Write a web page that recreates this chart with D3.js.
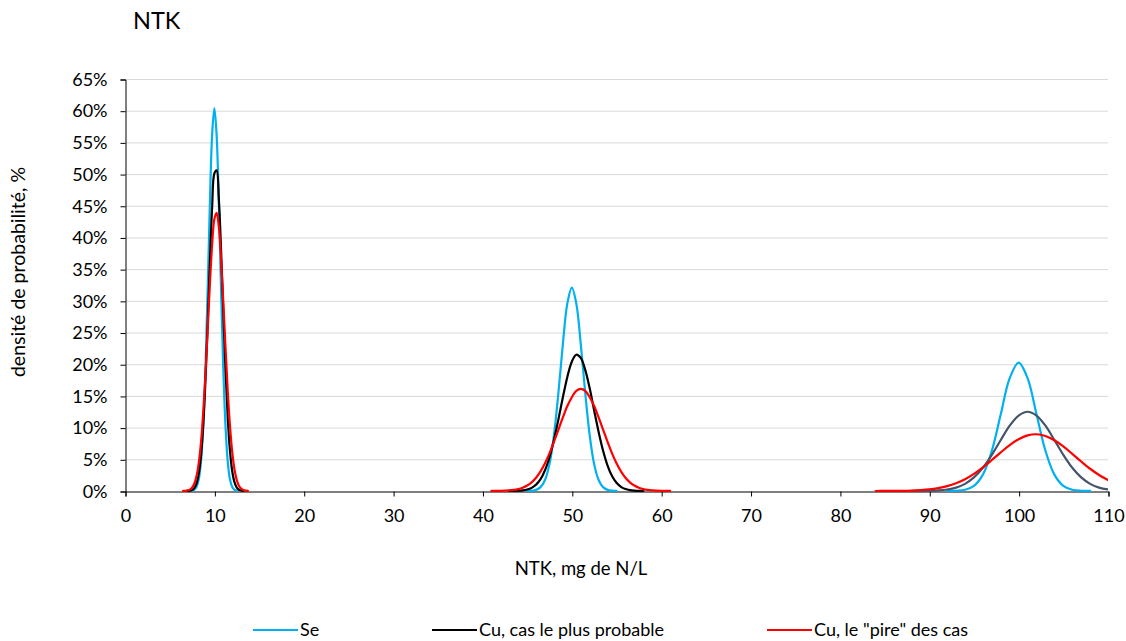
<!DOCTYPE html>
<html>
<head>
<meta charset="utf-8">
<script src="https://cdn.jsdelivr.net/npm/d3@7"></script>
<style>
  html, body { margin: 0; padding: 0; background: #fff; }
  svg { display: block; font-family: Lato, "Noto Sans", sans-serif; }
</style>
</head>
<body>
<svg id="chart" width="1126" height="641"></svg>
<script>
// NTK concentration (mg de N/L) sample grids, one per peak
const xPeak1 = [6.5, 6.75, 7, 7.25, 7.5, 7.75, 8, 8.25, 8.5, 8.75, 9, 9.25, 9.5, 9.75, 10, 10.25, 10.5, 10.75, 11, 11.25, 11.5, 11.75, 12, 12.25, 12.5, 12.75, 13, 13.25, 13.5, 13.75];
const xPeak2 = [41, 41.5, 42, 42.5, 43, 43.5, 44, 44.5, 45, 45.5, 46, 46.5, 47, 47.5, 48, 48.5, 49, 49.5, 50, 50.5, 51, 51.5, 52, 52.5, 53, 53.5, 54, 54.5, 55, 55.5, 56, 56.5, 57, 57.5, 58, 58.5, 59, 59.5, 60, 60.5, 61];
const xPeak3 = [84, 85, 86, 87, 88, 89, 90, 91, 92, 93, 94, 95, 96, 97, 98, 99, 100, 101, 102, 103, 104, 105, 106, 107, 108, 109, 110];

// Probability density, % (null = no value at that concentration)
const sePeak1 = [null, null, null, null, 0.05, 0.18, 0.62, 1.8, 4.6, 10.1, 19.2, 31.7, 45.4, 56.2, 60.4, 56.2, 45.4, 31.7, 19.2, 10.1, 4.6, 1.8, 0.62, 0.18, 0.05, null, null, null, null, null];
const sePeak2 = [null, null, null, null, null, null, null, null, 0.01, 0.05, 0.18, 0.61, 1.74, 4.24, 8.79, 15.5, 23.2, 29.6, 32.1, 29.6, 23.2, 15.5, 8.79, 4.24, 1.74, 0.61, 0.18, 0.05, 0.01, null, null, null, null, null, null, null, null, null, null, null, null];
const sePeak3 = [null, null, null, null, null, null, null, null, 0.005, 0.04, 0.2, 0.81, 2.58, 6.35, 12.1, 17.8, 20.25, 17.8, 12.1, 6.35, 2.58, 0.81, 0.2, 0.04, 0.005, null, null];

const cuProbPeak1 = [null, null, 0.02, 0.05, 0.16, 0.46, 1.17, 2.67, 5.51, 10.3, 17.3, 26.3, 36.1, 44.8, 50.1, 50.6, 46.1, 38.0, 28.3, 19.0, 11.5, 6.29, 3.11, 1.39, 0.56, 0.2, 0.07, 0.02, null, null];
const cuProbPeak2 = [null, null, null, null, 0.005, 0.014, 0.04, 0.1, 0.23, 0.49, 1.0, 1.87, 3.28, 5.33, 8.06, 11.3, 14.8, 18.0, 20.4, 21.5, 21.0, 19.1, 16.2, 12.7, 9.32, 6.34, 4.01, 2.36, 1.29, 0.66, 0.31, 0.14, 0.06, 0.02, 0.01, null, null, null, null, null, null];
const cuProbPeak3 = [null, null, null, null, 0.003, 0.01, 0.03, 0.09, 0.24, 0.54, 1.13, 2.14, 3.66, 5.7, 8.04, 10.3, 11.9, 12.5, 11.9, 10.3, 8.04, 5.7, 3.66, 2.14, 1.13, 0.54, 0.24];

const cuWorstPeak1 = [0.01, 0.03, 0.09, 0.22, 0.52, 1.14, 2.32, 4.36, 7.59, 12.3, 18.3, 25.4, 32.7, 38.9, 42.9, 43.9, 41.7, 36.6, 29.8, 22.5, 15.7, 10.2, 6.13, 3.42, 1.76, 0.84, 0.37, 0.15, 0.06, 0.02];
const cuWorstPeak2 = [0.005, 0.01, 0.02, 0.05, 0.09, 0.17, 0.3, 0.52, 0.86, 1.37, 2.1, 3.1, 4.38, 5.94, 7.74, 9.68, 11.6, 13.4, 14.8, 15.8, 16.1, 15.8, 14.8, 13.4, 11.6, 9.68, 7.74, 5.94, 4.38, 3.1, 2.1, 1.37, 0.86, 0.52, 0.3, 0.17, 0.09, 0.05, 0.02, 0.01, 0.005];
const cuWorstPeak3 = [0.003, 0.007, 0.015, 0.03, 0.07, 0.14, 0.25, 0.45, 0.76, 1.22, 1.86, 2.7, 3.73, 4.89, 6.1, 7.24, 8.17, 8.77, 8.95, 8.68, 8.01, 7.03, 5.86, 4.65, 3.51, 2.52, 1.72];

// Axis ticks
const xTicks = [0, 10, 20, 30, 40, 50, 60, 70, 80, 90, 100, 110];
const yTicks = [0, 5, 10, 15, 20, 25, 30, 35, 40, 45, 50, 55, 60, 65];

const seriesNames = ["Se", "Cu, cas le plus probable", "Cu, le \"pire\" des cas"];

// Layout and styling
const W = 1126, H = 641;
const plot = { left: 125, right: 1108, top: 79, bottom: 491 };
const seriesColors = ["#00B0F0", "#000000", "#FF0000"];
const peakColorOverride = { "1-2": "#44546A" }; // series 1, third peak
const FONT = "Lato, 'Noto Sans', sans-serif";

const svg = d3.select("#chart");
svg.append("rect").attr("width", W).attr("height", H).attr("fill", "#fff");

const x = d3.scaleLinear().domain([0, 110]).range([plot.left, plot.right]);
const y = d3.scaleLinear().domain([0, 65]).range([plot.bottom, plot.top]);

// Horizontal gridlines
svg.append("g")
  .selectAll("line")
  .data(yTicks.filter(t => t > 0))
  .join("line")
  .attr("x1", plot.left).attr("x2", plot.right)
  .attr("y1", d => y(d) + 0.5).attr("y2", d => y(d) + 0.5)
  .attr("stroke", "#D9D9D9").attr("stroke-width", 1);

// Y axis
const yAxis = d3.axisLeft(y).tickValues(yTicks).tickFormat(d => d + "%").tickSizeOuter(0).tickSize(5).tickPadding(13);
const gy = svg.append("g").attr("transform", `translate(${plot.left + 0.5},0.5)`).call(yAxis);
gy.select(".domain").attr("stroke", "#000");
gy.selectAll(".tick line").attr("stroke", "#000");
gy.selectAll(".tick text").attr("font-size", 18).attr("fill", "#000").attr("font-family", FONT);

// X axis
const xAxis = d3.axisBottom(x).tickValues(xTicks).tickFormat(d3.format("d")).tickSizeOuter(0).tickSize(5).tickPadding(13);
const gx = svg.append("g").attr("transform", `translate(0.5,${plot.bottom + 0.5})`).call(xAxis);
gx.select(".domain").attr("stroke", "#000");
gx.selectAll(".tick line").attr("stroke", "#000");
gx.selectAll(".tick text").attr("font-size", 18).attr("fill", "#000").attr("font-family", FONT);

// Density curves
svg.append("clipPath").attr("id", "plotClip")
  .append("rect").attr("x", plot.left).attr("y", plot.top - 10)
  .attr("width", plot.right - plot.left).attr("height", plot.bottom - plot.top + 12);

const line = d3.line()
  .defined(d => d[1] !== null)
  .x(d => x(d[0]))
  .y(d => y(d[1]))
  .curve(d3.curveCatmullRom.alpha(0.5));

const grids = [xPeak1, xPeak2, xPeak3];
const seriesData = [
  [sePeak1, sePeak2, sePeak3],
  [cuProbPeak1, cuProbPeak2, cuProbPeak3],
  [cuWorstPeak1, cuWorstPeak2, cuWorstPeak3]
];

const curves = svg.append("g").attr("clip-path", "url(#plotClip)");
seriesData.forEach((peaks, si) => {
  peaks.forEach((vals, pi) => {
    const pts = grids[pi].map((xv, i) => [xv, vals[i]]);
    curves.append("path")
      .attr("d", line(pts))
      .attr("fill", "none")
      .attr("stroke", peakColorOverride[`${si}-${pi}`] || seriesColors[si])
      .attr("stroke-width", 2.2)
      .attr("stroke-linejoin", "round")
      .attr("stroke-linecap", "round");
  });
});

// Title
svg.append("text")
  .attr("x", 133).attr("y", 29)
  .attr("font-size", 23.5).attr("fill", "#000")
  .text("NTK");

// Axis titles
svg.append("text")
  .attr("x", 581).attr("y", 575)
  .attr("text-anchor", "middle")
  .attr("font-size", 18.5).attr("fill", "#000")
  .text("NTK, mg de N/L");

svg.append("text")
  .attr("transform", "translate(25,272) rotate(-90)")
  .attr("text-anchor", "middle")
  .attr("font-size", 19.5).attr("fill", "#000")
  .text("densité de probabilité, %");

// Legend
const legendX = [253, 432, 767];
const legend = svg.append("g");
seriesNames.forEach((name, i) => {
  legend.append("line")
    .attr("x1", legendX[i]).attr("x2", legendX[i] + 45)
    .attr("y1", 630).attr("y2", 630)
    .attr("stroke", seriesColors[i]).attr("stroke-width", 2.2);
  legend.append("text")
    .attr("x", legendX[i] + 47).attr("y", 636)
    .attr("font-size", 18).attr("fill", "#000")
    .text(name);
});
</script>
</body>
</html>
